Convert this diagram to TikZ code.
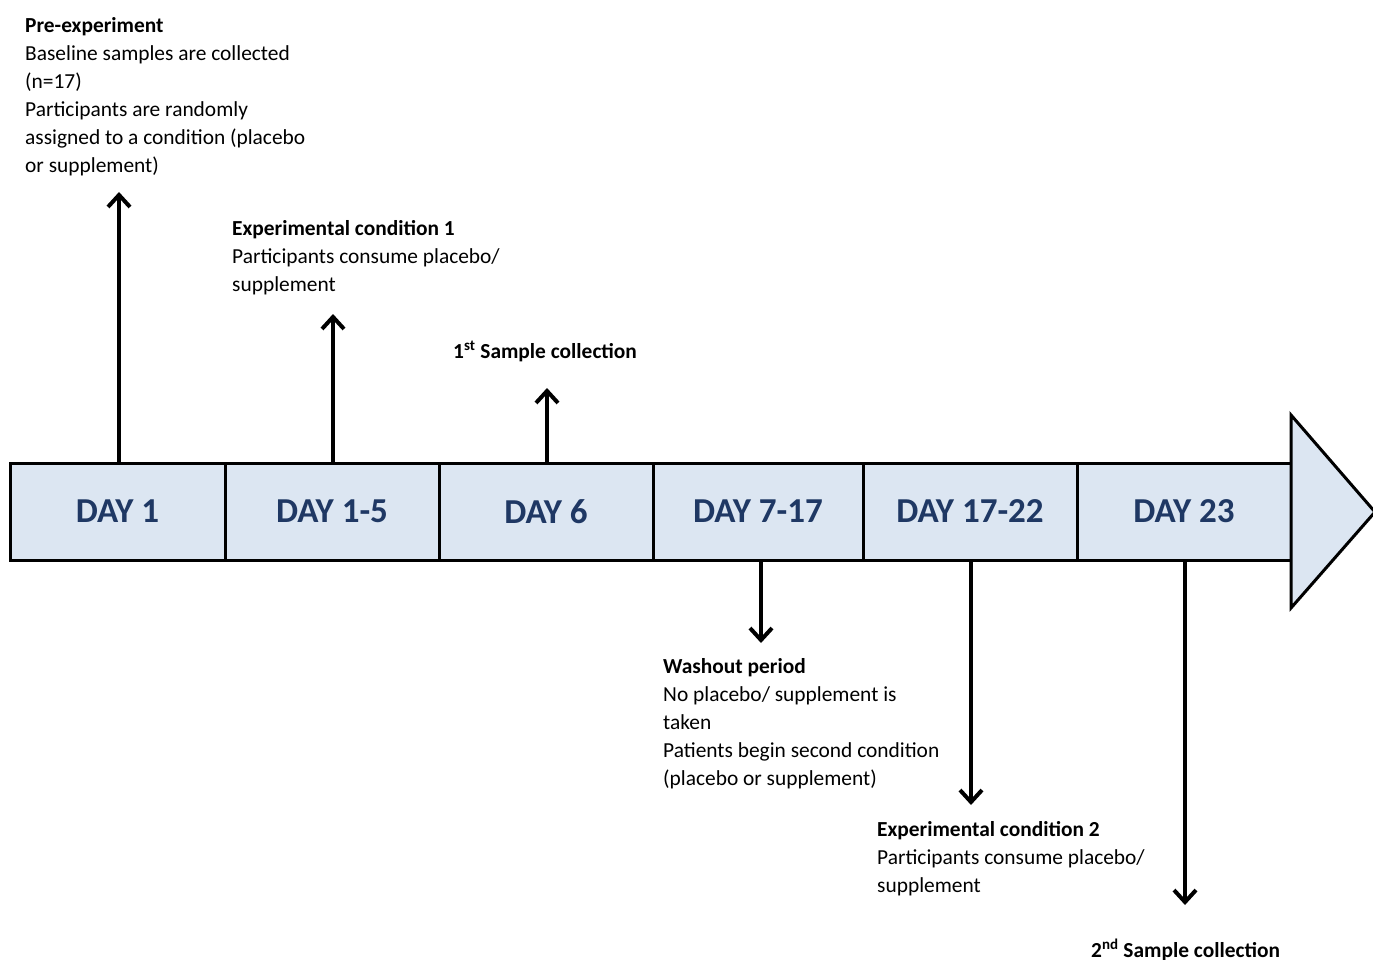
\documentclass[tikz,border=0pt]{standalone}
\usepackage{fontspec}
\setmainfont{Carlito}
\usetikzlibrary{arrows.meta}
\definecolor{boxfill}{RGB}{220,230,242}
\definecolor{daytext}{RGB}{31,56,100}
\tikzset{
  daybox/.style={draw, line width=3pt, fill=boxfill, text=daytext,
    font=\fontsize{35}{40}\selectfont\bfseries, minimum height=97pt, inner sep=0pt},
  note/.style={anchor=base west, align=left, inner sep=0pt,
    font=\fontsize{21.4}{28}\selectfont},
  tl/.style={line width=4pt, -{Straight Barb[length=12pt,width=22pt]}},
}
\begin{document}
\begin{tikzpicture}[x=1pt,y=-1pt]
    %%%%% FRAME %%%%%
    \useasboundingbox (0,0) rectangle (1373,960);

    %%%%% TIMELINE %%%%%
    \node[daybox, minimum width=215pt] (day1)    at (117.5,511.5) {DAY 1};
    \node[daybox, minimum width=214pt] (day15)   at (332,511.5)   {DAY 1-5};
    \node[daybox, minimum width=214pt] (day6)    at (546,511.5)   {DAY 6};
    \node[daybox, minimum width=210pt] (day717)  at (758,511.5)   {DAY 7-17};
    \node[daybox, minimum width=214pt] (day1722) at (970,511.5)   {DAY 17-22};
    \node[daybox, minimum width=214pt] (day23)   at (1184,511.5)  {DAY 23};
    \draw[line width=3pt, fill=boxfill] (1291,415) -- (1375,512) -- (1291,608) -- cycle;

    %%%%% NOTES (anchored at last baseline) %%%%%
    \node[note] (pre) at (25,173) {\textbf{Pre-experiment}\\Baseline samples are collected\\(n=17)\\Participants are randomly\\assigned to a condition (placebo\\or supplement)};
    \node[note] (exp1) at (232,291) {\textbf{Experimental condition 1}\\Participants consume placebo/\\supplement};
    \node[note] (samp1) at (453,358) {\textbf{1\textsuperscript{st} Sample collection}};
    \node[note] (wash) at (663,785) {\textbf{Washout period}\\No placebo/ supplement is\\taken\\Patients begin second condition\\(placebo or supplement)};
    \node[note] (exp2) at (877,892) {\textbf{Experimental condition 2}\\Participants consume placebo/\\supplement};
    \node[note] (samp2) at (1091,957) {\textbf{2\textsuperscript{nd} Sample collection}};

    %%%%% ARROWS %%%%%
    \coordinate (up1) at (119,192);
    \coordinate (up2) at (333,314);
    \coordinate (up3) at (547,388);
    \coordinate (dn4) at (761,643);
    \coordinate (dn5) at (971,805);
    \coordinate (dn6) at (1185,905);
    \draw[tl] (up1 |- day1.north) -- (up1);
    \draw[tl] (up2 |- day15.north) -- (up2);
    \draw[tl] (up3 |- day6.north) -- (up3);
    \draw[tl] (dn4 |- day717.south) -- (dn4);
    \draw[tl] (dn5 |- day1722.south) -- (dn5);
    \draw[tl] (dn6 |- day23.south) -- (dn6);
\end{tikzpicture}
\end{document}
